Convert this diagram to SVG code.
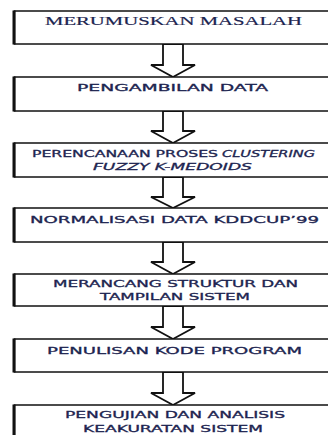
<svg xmlns="http://www.w3.org/2000/svg" width="328" height="435" viewBox="0 0 328 435">
<style>
.box{fill:#fff;stroke:#111;stroke-width:1.5}
.lb{stroke:#111;stroke-width:3}
.t{font-family:"DejaVu Sans",Verdana,sans-serif;font-size:9.5px;fill:#1c2450;stroke:#1c2450;stroke-width:0.3}
.s{font-family:"Liberation Serif","Times New Roman",serif;font-size:13px;fill:#1c2450;stroke:#1c2450;stroke-width:0.2}
.i{font-style:italic}
.ar{fill:#fff;stroke:#111;stroke-width:1.8;stroke-linejoin:miter}
</style>
<rect width="328" height="435" fill="#fff"/>
<g id="connectors">
<polygon class="ar" points="163,44 183,44 183,65 195,65 173,77 151,65 163,65"/>
<polygon class="ar" points="163,111 183,111 183,131 195,131 173,143 151,131 163,131"/>
<polygon class="ar" points="163,177 183,177 183,197 195,197 173,208 151,197 163,197"/>
<polygon class="ar" points="163,242 183,242 183,262 195,262 173,274 151,262 163,262"/>
<polygon class="ar" points="163,306 183,306 183,327 195,327 173,339 151,327 163,327"/>
<polygon class="ar" points="163,372 183,372 183,393 195,393 173,405 151,393 163,393"/>
</g>
<g id="n1">
<rect class="box" x="14.5" y="11" width="330" height="33"/>
<line class="lb" x1="14" y1="10.5" x2="14" y2="44.5"/>
<text class="s" x="45" y="25" textLength="257" lengthAdjust="spacingAndGlyphs">MERUMUSKAN MASALAH</text>
</g>
<g id="n2">
<rect class="box" x="14.5" y="77" width="330" height="34"/>
<line class="lb" x1="14" y1="76.5" x2="14" y2="111.5"/>
<text class="t" x="77" y="91" textLength="191" lengthAdjust="spacingAndGlyphs">PENGAMBILAN DATA</text>
</g>
<g id="n3">
<rect class="box" x="14.5" y="143" width="330" height="34"/>
<line class="lb" x1="14" y1="142.5" x2="14" y2="177.5"/>
<text class="t" x="32" y="157" textLength="186" lengthAdjust="spacingAndGlyphs">PERENCANAAN PROSES</text>
<text class="t i" x="222" y="157" textLength="93" lengthAdjust="spacingAndGlyphs">CLUSTERING</text>
<text class="t i" x="93" y="170" textLength="159" lengthAdjust="spacingAndGlyphs">FUZZY K-MEDOIDS</text>
</g>
<g id="n4">
<rect class="box" x="14.5" y="208" width="330" height="34"/>
<line class="lb" x1="14" y1="207.5" x2="14" y2="242.5"/>
<text class="t" x="30" y="223" textLength="289" lengthAdjust="spacingAndGlyphs">NORMALISASI DATA KDDCUP’99</text>
</g>
<g id="n5">
<rect class="box" x="14.5" y="274" width="330" height="32"/>
<line class="lb" x1="14" y1="273.5" x2="14" y2="306.5"/>
<text class="t" x="53" y="287" textLength="245" lengthAdjust="spacingAndGlyphs">MERANCANG STRUKTUR DAN</text>
<text class="t" x="100" y="300" textLength="150" lengthAdjust="spacingAndGlyphs">TAMPILAN SISTEM</text>
</g>
<g id="n6">
<rect class="box" x="14.5" y="339" width="330" height="33"/>
<line class="lb" x1="14" y1="338.5" x2="14" y2="372.5"/>
<text class="t" x="47" y="354" textLength="255" lengthAdjust="spacingAndGlyphs">PENULISAN KODE PROGRAM</text>
</g>
<g id="n7">
<rect class="box" x="14.5" y="405" width="330" height="40"/>
<line class="lb" x1="14" y1="404.5" x2="14" y2="440"/>
<text class="t" x="65" y="418" textLength="220" lengthAdjust="spacingAndGlyphs">PENGUJIAN DAN ANALISIS</text>
<text class="t" x="83" y="432" textLength="180" lengthAdjust="spacingAndGlyphs">KEAKURATAN SISTEM</text>
</g>
</svg>
